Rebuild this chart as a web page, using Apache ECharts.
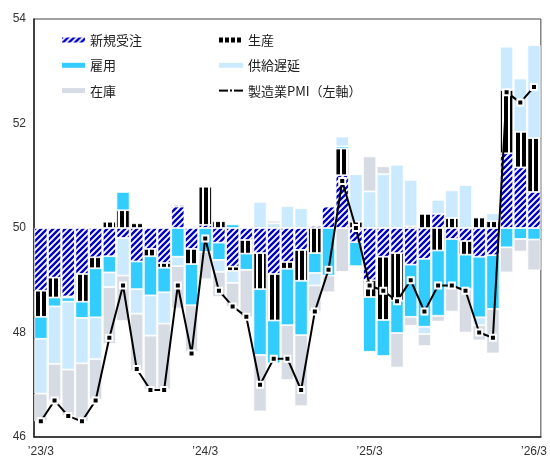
<!DOCTYPE html>
<html>
<head>
<meta charset="utf-8">
<script src="https://cdn.jsdelivr.net/npm/echarts@6/dist/echarts.min.js"></script>
<style>
  html, body { margin: 0; padding: 0; background: #fff; }
  #chart { width: 550px; height: 465px; }
</style>
</head>
<body>
<div id="chart"></div>
<script>
// Monthly categories
const months = [
  "’23/3","’23/4","’23/5","’23/6","’23/7","’23/8","’23/9","’23/10","’23/11","’23/12",
  "’24/1","’24/2","’24/3","’24/4","’24/5","’24/6","’24/7","’24/8","’24/9","’24/10","’24/11","’24/12",
  "’25/1","’25/2","’25/3","’25/4","’25/5","’25/6","’25/7","’25/8","’25/9","’25/10","’25/11","’25/12",
  "’26/1","’26/2","’26/3"
];

// Contribution of each component to the headline index (points vs. 50)
const newOrders = [-1.20,-0.95,-1.31,-0.88,-0.56,-0.54,-0.19,-0.64,-0.40,-0.67,
  0.41,-0.40,0.06,-0.28,-0.74,-0.23,-0.48,-0.88,-0.65,-0.42,0.04,0.41,
  1.01,-0.27,-1.00,-0.55,-0.48,-0.70,-0.59,0.27,-0.21,-0.25,-0.55,-0.52,
  1.43,1.16,0.69];
const production = [-0.50,-0.38,-0.02,-0.53,-0.21,0.12,0.34,0.09,-0.14,-0.09,
  0.03,-0.29,0.73,0.13,-0.08,-0.26,-0.69,-0.89,-0.13,-0.59,-0.48,0.00,
  0.51,0.12,-0.32,-1.21,-0.91,0.03,0.27,-0.43,0.19,-0.26,0.20,0.13,
  1.21,0.68,1.03];
const employment = [-0.42,-0.17,-0.08,-0.31,-0.94,-0.31,0.35,-0.53,-0.75,-0.47,
  -0.55,-0.79,-0.46,-0.33,0.07,-0.31,-1.26,-0.82,-1.08,-1.04,-0.38,-0.91,
  0.04,-0.46,-1.05,-0.69,-0.62,-1.00,-1.30,-1.25,-0.94,-0.66,-1.16,-1.03,
  -0.37,-0.21,-0.22];
const deliveries = [-1.05,-1.10,-1.30,-0.87,-0.80,-0.28,-0.72,-0.47,-0.77,-0.60,
  -0.18,0.00,0.00,-0.23,-0.23,0.00,0.50,0.09,0.42,0.38,-0.24,0.00,
  0.19,0.91,0.70,1.03,1.21,0.89,-0.14,0.27,0.53,0.82,-0.15,0.15,
  0.83,1.02,1.78];
const inventories = [-0.53,-0.70,-0.89,-1.12,-0.78,-1.09,-0.87,-1.10,-1.03,-1.26,
  -0.81,-0.89,-0.52,-0.48,-0.46,-0.91,-1.08,0.05,-1.05,-1.36,-0.50,-0.32,
  -0.84,0.00,0.67,0.15,-0.66,-0.17,-0.23,-0.11,-0.45,-0.83,-0.29,-0.85,
  -0.48,-0.24,-0.59];

// Manufacturing PMI (headline)
const pmi = [46.3,46.7,46.4,46.3,46.7,47.9,48.9,47.3,46.9,46.9,
  48.9,47.6,49.8,48.8,48.5,48.3,47.0,47.5,47.5,46.9,48.4,49.2,
  50.9,50.0,48.9,48.8,48.6,49.0,48.4,48.9,48.9,48.8,48.0,47.9,
  52.6,52.4,52.7];

const BASE = 50;
const yTicks = { min: 46, max: 54, step: 2 };

// Diagonal blue hatch tile
function makeHatch() {
  const s = 6;
  const c = document.createElement('canvas');
  c.width = s; c.height = s;
  const g = c.getContext('2d');
  g.fillStyle = '#ffffff';
  g.fillRect(0, 0, s, s);
  g.strokeStyle = '#0000c8';
  g.lineWidth = 2.4;
  g.beginPath();
  g.moveTo(0, s); g.lineTo(s, 0);
  g.moveTo(-1, 1); g.lineTo(1, -1);
  g.moveTo(s - 1, s + 1); g.lineTo(s + 1, s - 1);
  g.stroke();
  return c;
}

// Vertical black stripe tile
function makeStripes() {
  const c = document.createElement('canvas');
  c.width = 6; c.height = 6;
  const g = c.getContext('2d');
  g.fillStyle = '#ffffff';
  g.fillRect(0, 0, 6, 6);
  g.fillStyle = '#000000';
  g.fillRect(0, 0, 4, 6);
  return c;
}

const hatchFill = { image: makeHatch(), repeat: 'repeat' };
const stripeFill = { image: makeStripes(), repeat: 'repeat' };

const cjk = '"Noto Sans CJK JP", "Noto Sans", sans-serif';
const latin = '"Liberation Sans", Arial, sans-serif';

function barSeries(name, values, color) {
  return {
    name: name,
    type: 'bar',
    stack: 'pmi',
    barCategoryGap: '4%',
    data: values,
    itemStyle: { color: color, borderColor: '#ffffff', borderWidth: 0.8 },
    emphasis: { disabled: true }
  };
}

const chart = echarts.init(document.getElementById('chart'), null, { renderer: 'canvas' });

const legendText = { fontSize: 13, lineHeight: 14, color: '#222', fontFamily: cjk };

chart.setOption({
  animation: false,
  backgroundColor: '#ffffff',
  grid: {
    left: 34, right: 8, top: 19, bottom: 28,
    show: true, borderColor: '#444', borderWidth: 1
  },
  legend: [
    {
      orient: 'vertical', left: 57, top: 28,
      itemWidth: 23, itemHeight: 5, itemGap: 11.3,
      textStyle: legendText, selectedMode: false,
      data: [
        { name: '新規受注', icon: 'rect', itemStyle: { borderWidth: 0 } },
        { name: '雇用', icon: 'rect', itemStyle: { borderWidth: 0 } },
        { name: '在庫', icon: 'rect', itemStyle: { borderWidth: 0 } }
      ]
    },
    {
      orient: 'vertical', left: 213, top: 28,
      itemWidth: 24, itemHeight: 5, itemGap: 11.3,
      textStyle: legendText, selectedMode: false,
      data: [
        { name: '生産', icon: 'rect', itemStyle: { borderWidth: 0 } },
        { name: '供給遅延', icon: 'rect', itemStyle: { borderWidth: 0 } },
        { name: '製造業PMI（左軸）' }
      ]
    }
  ],
  xAxis: {
    type: 'category',
    data: months,
    boundaryGap: true,
    axisLine: { onZero: false, lineStyle: { color: '#222', width: 1.5 } },
    axisTick: { show: false },
    splitLine: { show: false },
    axisLabel: { interval: 11, margin: 9, fontSize: 12, color: '#333', fontFamily: latin }
  },
  yAxis: {
    type: 'value',
    min: yTicks.min - BASE,
    max: yTicks.max - BASE,
    interval: yTicks.step,
    axisLine: { show: true, lineStyle: { color: '#222', width: 1.5 } },
    axisTick: { show: false },
    splitLine: { show: false },
    axisLabel: {
      margin: 8, fontSize: 12, color: '#333', fontFamily: latin,
      formatter: v => String(Math.round(v + BASE))
    }
  },
  series: [
    barSeries('新規受注', newOrders, hatchFill),
    barSeries('生産', production, stripeFill),
    barSeries('雇用', employment, '#33ccff'),
    barSeries('供給遅延', deliveries, '#cceaff'),
    barSeries('在庫', inventories, '#d6dbe4'),
    {
      name: '製造業PMI（左軸）',
      type: 'line',
      data: pmi.map(v => +(v - BASE).toFixed(2)),
      z: 10,
      symbol: 'rect',
      symbolSize: 6,
      showAllSymbol: true,
      lineStyle: { color: '#000', width: 2 },
      itemStyle: { color: '#000', borderColor: '#fff', borderWidth: 2 },
      emphasis: { disabled: true }
    }
  ]
});
</script>
</body>
</html>
